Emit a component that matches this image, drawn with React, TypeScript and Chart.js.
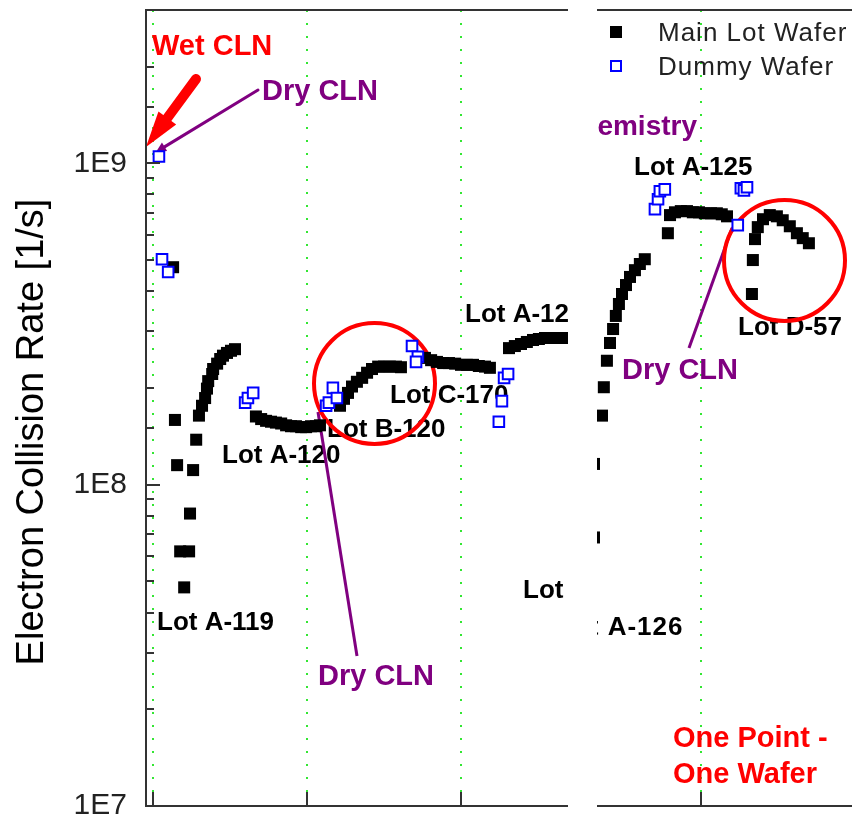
import React, { useEffect, useRef } from 'react';
import { Chart, registerables } from 'chart.js';

Chart.register(...registerables);

// ---- data: wafer sequence index (x) and electron collision rate in 1/s (y) ----

// Main lot wafers, lot by lot
const LOT_A119_WAFER = [6.5, 7.1, 7.8, 8.8, 10.1, 11.7, 12.0, 13.0, 14.0, 14.9, 15.9, 16.9, 17.5, 17.9, 19.2, 19.5, 20.8, 21.8, 22.7, 24.0, 25.3, 26.6];
const LOT_A119_RATE = [4.75e8, 1.59e8, 1.15e8, 6.2e7, 4.79e7, 6.2e7, 8.13e7, 1.11e8, 1.38e8, 1.64e8, 1.76e8, 1.86e8, 1.99e8, 2.1e8, 2.21e8, 2.29e8, 2.38e8, 2.46e8, 2.52e8, 2.57e8, 2.61e8, 2.64e8];

const LOT_A120_WAFER = [33.4, 35.1, 36.7, 38.3, 39.9, 41.6, 43.2, 44.8, 46.4, 48.1, 49.7, 51.3, 52.9, 54.2];
const LOT_A120_RATE = [1.63e8, 1.6e8, 1.58e8, 1.57e8, 1.56e8, 1.55e8, 1.53e8, 1.52e8, 1.52e8, 1.51e8, 1.51e8, 1.52e8, 1.52e8, 1.53e8];

const LOT_B120_WAFER = [60.7, 62.0, 63.3, 64.6, 66.2, 67.9, 69.5, 71.1, 73.1, 75.0, 76.9, 78.9, 80.5];
const LOT_B120_RATE = [1.76e8, 1.85e8, 1.93e8, 2.02e8, 2.09e8, 2.15e8, 2.23e8, 2.29e8, 2.33e8, 2.33e8, 2.33e8, 2.33e8, 2.32e8];

const LOT_C170_WAFER = [88.3, 90.3, 92.2, 94.2, 96.1, 98.1, 100.0, 101.9, 103.9, 105.8, 107.8, 109.4];
const LOT_C170_RATE = [2.48e8, 2.44e8, 2.41e8, 2.39e8, 2.39e8, 2.38e8, 2.36e8, 2.36e8, 2.36e8, 2.34e8, 2.33e8, 2.31e8];

const LOT_A12X_WAFER = [115.6, 117.5, 119.5, 121.4, 123.4, 125.3, 127.3, 129.2, 131.2, 132.8];
const LOT_A12X_RATE = [2.66e8, 2.7e8, 2.74e8, 2.78e8, 2.82e8, 2.84e8, 2.86e8, 2.86e8, 2.86e8, 2.86e8];

const LOT_A126_WAFER = [143.2, 143.2, 145.8, 146.4, 147.4, 148.4, 149.4, 150.3, 151.3, 152.3, 153.6, 154.9, 156.5, 158.1, 159.7];
const LOT_A126_RATE = [6.85e7, 1.16e8, 1.64e8, 2.01e8, 2.43e8, 2.76e8, 3.05e8, 3.35e8, 3.65e8, 3.92e8, 4.18e8, 4.43e8, 4.65e8, 4.86e8, 5.03e8];

const LOT_A125_WAFER = [167.2, 167.9, 169.5, 171.4, 173.4, 175.3, 177.3, 179.2, 181.2, 183.1, 184.7, 186.4];
const LOT_A125_RATE = [6.06e8, 6.9e8, 7.04e8, 7.1e8, 7.1e8, 7.04e8, 7.04e8, 6.99e8, 6.99e8, 6.99e8, 6.94e8, 6.84e8];

const LOT_D57_WAFER = [194.5, 194.8, 195.5, 196.4, 198.1, 200.3, 202.6, 204.5, 206.8, 209.1, 211.0, 213.0];
const LOT_D57_RATE = [3.92e8, 5.0e8, 5.81e8, 6.33e8, 6.7e8, 6.9e8, 6.84e8, 6.65e8, 6.37e8, 6.06e8, 5.85e8, 5.64e8];

// Dummy wafers run around the cleans
const DUMMY_WAFER = [1.9, 2.9, 4.9, 29.9, 30.8, 32.5, 56.2, 57.1, 58.4, 59.7, 84.1, 86.0, 85.4, 112.3, 113.3, 114.0, 115.3, 163.0, 164.0, 164.6, 166.2, 189.9, 190.9, 191.9, 192.9];
const DUMMY_RATE = [1.05e9, 5.03e8, 4.59e8, 1.8e8, 1.86e8, 1.93e8, 1.76e8, 1.8e8, 2.0e8, 1.86e8, 2.7e8, 2.5e8, 2.41e8, 1.57e8, 1.82e8, 2.15e8, 2.21e8, 7.2e8, 7.73e8, 8.19e8, 8.3e8, 6.42e8, 8.36e8, 8.24e8, 8.42e8];

const SERIES_LABELS = ['Main Lot Wafer', 'Dummy Wafer'];
const Y_TITLE = 'Electron Collision Rate [1/s]';
const X_GRID = [0, 50, 100, 178];
const X_MIN = -2.3;
const X_MAX = 227;
const Y_MIN = 1e7;
const Y_MAX = 3e9;

// ---- styling ----
const FONT = '"Liberation Sans", Arial, Helvetica, sans-serif';
const RED = '#ff0000';
const PURPLE = '#800080';
const AXIS = '#333333';
const GAP_LEFT = 568;
const GAP_RIGHT = 597;

type Note = {
  text: string; x: number; y: number; color: string; size: number;
  align?: CanvasTextAlign; rightPanel?: boolean; spacing?: number;
};

const NOTES: Note[] = [
  { text: 'Wet CLN', x: 152, y: 55, color: RED, size: 29 },
  { text: 'Dry CLN', x: 262, y: 100, color: PURPLE, size: 29 },
  { text: 'Lot A-119', x: 157, y: 630, color: '#000', size: 26 },
  { text: 'Lot A-120', x: 222, y: 463, color: '#000', size: 26 },
  { text: 'Lot B-120', x: 327, y: 437, color: '#000', size: 26 },
  { text: 'Lot C-170', x: 390, y: 403, color: '#000', size: 26 },
  { text: 'Lot A-12', x: 465, y: 322, color: '#000', size: 26 },
  { text: 'Lot', x: 523, y: 598, color: '#000', size: 26 },
  { text: 'Dry CLN', x: 318, y: 685, color: PURPLE, size: 29 },
  { text: 'Chemistry', x: 697, y: 135, color: PURPLE, size: 28, align: 'right', rightPanel: true },
  { text: 'Lot A-125', x: 634, y: 175, color: '#000', size: 26 },
  { text: 'Lot D-57', x: 738, y: 335, color: '#000', size: 26 },
  { text: 'Dry CLN', x: 622, y: 379, color: PURPLE, size: 29 },
  { text: 'Lot A-126', x: 556, y: 635, color: '#000', size: 26, rightPanel: true, spacing: 1 },
  { text: 'One Point -', x: 673, y: 747, color: RED, size: 29 },
  { text: 'One Wafer', x: 673, y: 783, color: RED, size: 29 },
];

const CIRCLES = [
  { x: 374.5, y: 383.5, r: 60.5 },
  { x: 784.5, y: 260.5, r: 60.5 },
];

const LINES = [
  { x1: 318, y1: 412, x2: 357, y2: 656 },
  { x1: 732, y1: 228, x2: 689, y2: 348 },
];

function toPoints(xs: number[], ys: number[]) {
  return xs.map((x, i) => ({ x, y: ys[i] }));
}

const MAIN_POINTS = [
  ...toPoints(LOT_A119_WAFER, LOT_A119_RATE),
  ...toPoints(LOT_A120_WAFER, LOT_A120_RATE),
  ...toPoints(LOT_B120_WAFER, LOT_B120_RATE),
  ...toPoints(LOT_C170_WAFER, LOT_C170_RATE),
  ...toPoints(LOT_A12X_WAFER, LOT_A12X_RATE),
  ...toPoints(LOT_A126_WAFER, LOT_A126_RATE),
  ...toPoints(LOT_A125_WAFER, LOT_A125_RATE),
  ...toPoints(LOT_D57_WAFER, LOT_D57_RATE),
];
const DUMMY_POINTS = toPoints(DUMMY_WAFER, DUMMY_RATE);

function arrow(ctx: CanvasRenderingContext2D, x1: number, y1: number, x2: number, y2: number,
  shaft: number, headL: number, headW: number, color: string) {
  const dx = x2 - x1;
  const dy = y2 - y1;
  const len = Math.hypot(dx, dy);
  const ux = dx / len;
  const uy = dy / len;
  const nx = -uy;
  const ny = ux;
  const bx = x2 - ux * headL;
  const by = y2 - uy * headL;
  ctx.strokeStyle = color;
  ctx.fillStyle = color;
  ctx.lineWidth = shaft;
  ctx.lineCap = 'round';
  ctx.beginPath();
  ctx.moveTo(x1, y1);
  ctx.lineTo(bx + ux * 2, by + uy * 2);
  ctx.stroke();
  ctx.beginPath();
  ctx.moveTo(x2, y2);
  ctx.lineTo(bx + nx * headW, by + ny * headW);
  ctx.lineTo(bx - nx * headW, by - ny * headW);
  ctx.closePath();
  ctx.fill();
}

const overlay = {
  id: 'overlay',
  beforeDatasetsDraw(chart: any) {
    const ctx: CanvasRenderingContext2D = chart.ctx;
    const area = chart.chartArea;
    ctx.save();
    ctx.textBaseline = 'alphabetic';
    for (const n of NOTES) {
      ctx.save();
      if (n.rightPanel) {
        ctx.beginPath();
        ctx.rect(GAP_RIGHT, 0, chart.width - GAP_RIGHT, chart.height);
        ctx.clip();
      }
      ctx.font = `bold ${n.size}px ${FONT}`;
      (ctx as any).letterSpacing = `${n.spacing || 0}px`;
      ctx.fillStyle = n.color;
      ctx.textAlign = n.align || 'left';
      ctx.fillText(n.text, n.x, n.y);
      ctx.restore();
    }
    (ctx as any).letterSpacing = '0px';
    ctx.lineCap = 'butt';
    ctx.strokeStyle = PURPLE;
    ctx.lineWidth = 3;
    for (const l of LINES) {
      ctx.beginPath();
      ctx.moveTo(l.x1, l.y1);
      ctx.lineTo(l.x2, l.y2);
      ctx.stroke();
    }
    arrow(ctx, 258, 90, area.left + 10, 152, 3, 10, 5, PURPLE);
    arrow(ctx, 196, 79, area.left, 147, 10, 36, 11, RED);
    ctx.strokeStyle = RED;
    ctx.lineWidth = 4;
    for (const c of CIRCLES) {
      ctx.beginPath();
      ctx.arc(c.x, c.y, c.r, 0, Math.PI * 2);
      ctx.stroke();
    }
    ctx.restore();
  },
  afterDraw(chart: any) {
    const ctx: CanvasRenderingContext2D = chart.ctx;
    const { left, right, top, bottom } = chart.chartArea;
    const xs = chart.scales.x;
    const ys = chart.scales.y;
    ctx.save();
    ctx.strokeStyle = AXIS;
    ctx.lineWidth = 2;
    ctx.lineCap = 'butt';
    // frame: left axis, bottom axis, top edge
    ctx.beginPath();
    ctx.moveTo(right, top);
    ctx.lineTo(left, top);
    ctx.lineTo(left, bottom);
    ctx.lineTo(right, bottom);
    ctx.stroke();
    // inward ticks on the log axis
    for (const t of ys.ticks) {
      const py = Math.round(ys.getPixelForValue(t.value));
      const e = Math.log10(t.value);
      const major = Math.abs(e - Math.round(e)) < 1e-9;
      ctx.beginPath();
      ctx.moveTo(left, py);
      ctx.lineTo(left + (major ? 14 : 8), py);
      ctx.stroke();
    }
    for (const v of X_GRID) {
      const px = Math.round(xs.getPixelForValue(v));
      ctx.beginPath();
      ctx.moveTo(px, bottom);
      ctx.lineTo(px, bottom - 14);
      ctx.stroke();
    }
    // break in the time axis
    ctx.fillStyle = '#ffffff';
    ctx.fillRect(GAP_LEFT, 0, GAP_RIGHT - GAP_LEFT, chart.height);

    // legend
    const ds = chart.data.datasets;
    const rows = [32, 66];
    ctx.font = `26px ${FONT}`;
    (ctx as any).letterSpacing = '1px';
    ctx.textAlign = 'left';
    ctx.textBaseline = 'alphabetic';
    ds.forEach((d: any, i: number) => {
      const cy = rows[i];
      if (i === 0) {
        ctx.fillStyle = d.backgroundColor;
        ctx.fillRect(610, cy - 6, 12, 12);
      } else {
        ctx.fillStyle = d.backgroundColor;
        ctx.fillRect(611, cy - 5, 10, 10);
        ctx.strokeStyle = d.borderColor;
        ctx.lineWidth = 2;
        ctx.strokeRect(611, cy - 5, 10, 10);
      }
      ctx.fillStyle = '#222222';
      ctx.fillText(d.label, 658, cy + 9);
    });
    (ctx as any).letterSpacing = '0px';

    // y-axis title
    ctx.translate(43, 432);
    ctx.rotate(-Math.PI / 2);
    ctx.font = `38px ${FONT}`;
    ctx.fillStyle = '#000000';
    ctx.textAlign = 'center';
    ctx.fillText(Y_TITLE, 0, 0);
    ctx.restore();
  },
};

export default function App() {
  const ref = useRef<HTMLCanvasElement>(null);
  useEffect(() => {
    if (!ref.current) return;
    const chart = new Chart(ref.current, {
      type: 'scatter',
      data: {
        datasets: [
          {
            label: SERIES_LABELS[0],
            data: MAIN_POINTS,
            pointStyle: 'rect',
            pointRadius: 8.5,
            backgroundColor: '#000000',
            borderColor: '#000000',
            borderWidth: 0,
            order: 2,
          },
          {
            label: SERIES_LABELS[1],
            data: DUMMY_POINTS,
            pointStyle: 'rect',
            pointRadius: 7.5,
            backgroundColor: '#ffffff',
            borderColor: '#0000ff',
            borderWidth: 2,
            order: 1,
          },
        ],
      },
      options: {
        responsive: false,
        animation: false,
        events: [],
        layout: { autoPadding: false, padding: { top: 10, right: 0, bottom: 0, left: 0 } },
        plugins: { legend: { display: false }, tooltip: { enabled: false } },
        scales: {
          x: {
            type: 'linear',
            min: X_MIN,
            max: X_MAX,
            afterBuildTicks: (s: any) => {
              s.ticks = X_GRID.map((value) => ({ value }));
            },
            afterFit: (s: any) => {
              s.height = 12;
            },
            ticks: { display: false },
            grid: { color: '#33e633', lineWidth: 2, drawTicks: false },
            border: { display: false, dash: [2, 11] },
          },
          y: {
            type: 'logarithmic',
            min: Y_MIN,
            max: Y_MAX,
            afterFit: (s: any) => {
              s.width = 146;
              s.paddingTop = 0;
              s.paddingBottom = 0;
            },
            ticks: {
              autoSkip: false,
              padding: 19,
              color: '#222222',
              font: { family: FONT, size: 30 },
              callback: (v: any) => {
                const e = Math.log10(Number(v));
                const r = Math.round(e);
                return Math.abs(e - r) < 1e-9 ? `1E${r}` : '';
              },
            },
            grid: { display: false, drawTicks: false },
            border: { display: false },
          },
        },
      },
      plugins: [overlay],
    } as any);
    return () => chart.destroy();
  }, []);

  return (
    <div style={{ position: 'absolute', left: 0, top: 0, width: 852, height: 818, background: '#ffffff' }}>
      <canvas ref={ref} width={852} height={818} style={{ display: 'block' }} />
    </div>
  );
}
